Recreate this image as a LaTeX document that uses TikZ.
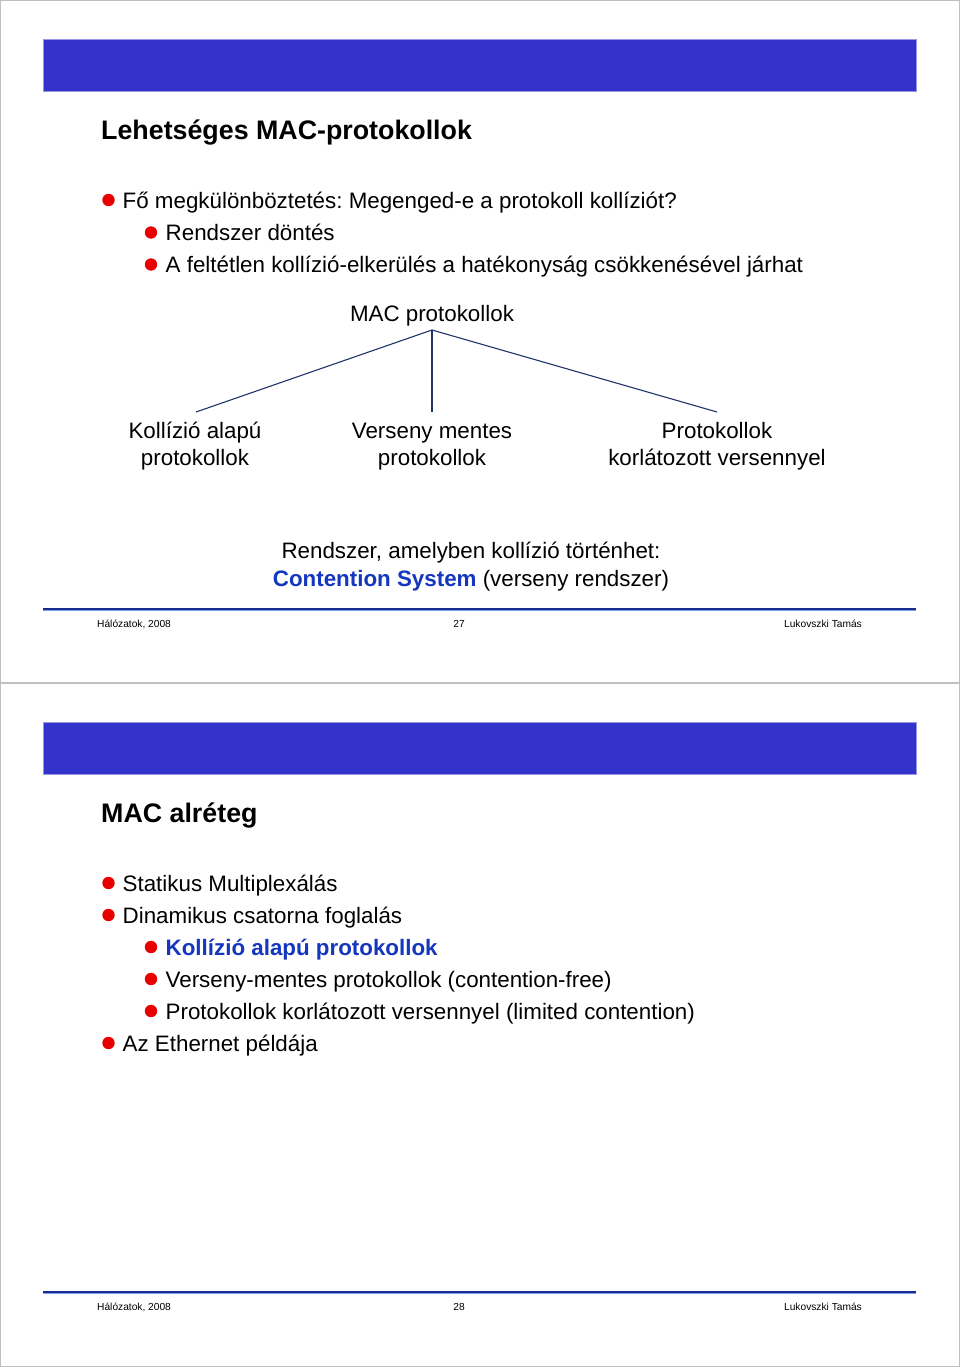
\documentclass[tikz,border=0pt]{standalone}
\usepackage{fontspec}
\setmainfont{Liberation Sans}
\frenchspacing
\definecolor{barblue}{RGB}{51,51,204}
\definecolor{baredge}{RGB}{150,150,225}
\definecolor{bulletred}{RGB}{232,0,0}
\definecolor{hiblue}{RGB}{20,55,190}
\definecolor{treeline}{RGB}{32,52,105}
\definecolor{footdark}{RGB}{25,45,145}
\definecolor{footlight}{RGB}{120,160,235}
\definecolor{framegray}{RGB}{192,192,192}
\begin{document}
\begin{tikzpicture}[x=1pt,y=-1pt,
  txt/.style={anchor=base west,inner sep=0pt,font=\fontsize{22.35}{27}\selectfont},
  ttl/.style={anchor=base west,inner sep=0pt,font=\fontsize{26.8}{32}\selectfont\bfseries},
  ctr/.style={anchor=base,inner sep=0pt,align=center,font=\fontsize{22.35}{27}\selectfont},
  foot/.style={inner sep=0pt,font=\fontsize{10.2}{12}\selectfont},
  dotmark/.style={fill=bulletred},
  bar/.style={fill=barblue,draw=baredge,line width=0.8pt},
  branch/.style={draw=treeline,line width=1.1pt},
  hi/.style={text=hiblue,font=\fontsize{22.35}{27}\selectfont\bfseries}]
\useasboundingbox (0,0) rectangle (960,1367);
\fill[white] (0,0) rectangle (960,1367);
% frame
\draw[framegray,line width=1.3pt] (0.7,0.7) rectangle (959.3,1366.3);
\draw[framegray,line width=1.3pt] (0,683) -- (960,683);

% ---------- slide 27 ----------
\draw[bar] (43,39) rectangle (916,91);
\node[ttl] (t1) at (101,139.5) {Lehetséges MAC-protokollok};
\fill[dotmark] (108.5,200) circle (6.2);
\node[txt] (b1) at (122.5,208) {Fő megkülönböztetés: Megenged-e a protokoll kollíziót?};
\fill[dotmark] (151,232.5) circle (6.2);
\node[txt] (b2) at (165.5,240.5) {Rendszer döntés};
\fill[dotmark] (151,264.5) circle (6.2);
\node[txt] (b3) at (165.5,272.5) {A feltétlen kollízió-elkerülés a hatékonyság csökkenésével járhat};

\node[ctr] (mac) at (432,321) {MAC protokollok};
\node[ctr] (kol) at (195,465) {Kollízió alapú\\protokollok};
\node[ctr] (ver) at (432,465) {Verseny mentes\\protokollok};
\node[ctr] (kor) at (717,465) {Protokollok\\korlátozott versennyel};
\coordinate (root) at (432,330);
\coordinate (e1) at (196,412);
\coordinate (e2) at (432,412);
\coordinate (e3) at (717,412);
\draw[branch] (root) -- (e1);
\draw[branch] (root) -- (e2);
\draw[branch] (root) -- (e3);

\node[ctr,font=\fontsize{22.35}{28}\selectfont] (cs) at (471,586)
  {Rendszer, amelyben kollízió történhet:\\{\color{hiblue}\bfseries Contention System} (verseny rendszer)};

\draw[footdark,line width=2pt] (43,609) -- (916,609);
\draw[footlight,line width=1pt] (43,610.8) -- (916,610.8);
\node[foot,anchor=base west] (f1a) at (97,627) {Hálózatok, 2008};
\node[foot,anchor=base] (f1b) at (459,627) {27};
\node[foot,anchor=base east] (f1c) at (862,627) {Lukovszki Tamás};

% ---------- slide 28 ----------
\draw[bar] (43,722) rectangle (916,774);
\node[ttl] (t2) at (101,822.5) {MAC alréteg};
\fill[dotmark] (108.5,883) circle (6.2);
\node[txt] (s1) at (122.5,891) {Statikus Multiplexálás};
\fill[dotmark] (108.5,915) circle (6.2);
\node[txt] (s2) at (122.5,923) {Dinamikus csatorna foglalás};
\fill[dotmark] (151,947) circle (6.2);
\node[txt,hi] (s3) at (165.5,955) {Kollízió alapú protokollok};
\fill[dotmark] (151,979) circle (6.2);
\node[txt] (s4) at (165.5,987) {Verseny-mentes protokollok (contention-free)};
\fill[dotmark] (151,1011) circle (6.2);
\node[txt] (s5) at (165.5,1019) {Protokollok korlátozott versennyel (limited contention)};
\fill[dotmark] (108.5,1043) circle (6.2);
\node[txt] (s6) at (122.5,1051) {Az Ethernet példája};

\draw[footdark,line width=2pt] (43,1292) -- (916,1292);
\draw[footlight,line width=1pt] (43,1293.8) -- (916,1293.8);
\node[foot,anchor=base west] (f2a) at (97,1310) {Hálózatok, 2008};
\node[foot,anchor=base] (f2b) at (459,1310) {28};
\node[foot,anchor=base east] (f2c) at (862,1310) {Lukovszki Tamás};
\end{tikzpicture}
\end{document}
